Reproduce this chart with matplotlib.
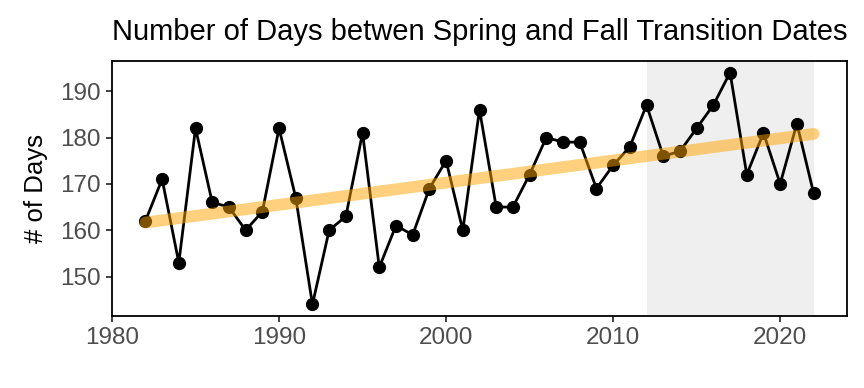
import numpy as np
import matplotlib.pyplot as plt

years = list(range(1982, 2023))
days = [162, 171, 153, 182, 166, 165, 160, 164, 182, 167,
        144, 160, 163, 181, 152, 161, 159, 169, 175, 160,
        186, 165, 165, 172, 180, 179, 179, 169, 174, 178,
        187, 176, 177, 182, 187, 194, 172, 181, 170, 183, 168]
shade_start, shade_end = 2012, 2022

plt.rcParams["font.family"] = ["Liberation Sans", "DejaVu Sans"]

fig = plt.figure(figsize=(8.64, 3.88), dpi=100)
ax = fig.add_axes([112 / 864, 1 - 316 / 388, (847 - 112) / 864, (316 - 61) / 388])

x = np.array(years)
y = np.array(days)

ax.axvspan(shade_start, shade_end, color="#EFEFEF", lw=0, zorder=0)

# linear trend
slope, intercept = np.polyfit(x, y, 1)
xl = np.array([x.min(), x.max()])
ax.plot(xl, slope * xl + intercept, color="#FFA500", alpha=0.5, lw=8.5,
        solid_capstyle="round", zorder=3)

ax.plot(x, y, color="black", lw=2.0, marker="o", markersize=8.5, zorder=2)

ax.set_xlim(1980, 2024)
ax.set_ylim(141.5, 196.5)
ax.set_xticks([1980, 1990, 2000, 2010, 2020])
ax.set_yticks([150, 160, 170, 180, 190])

for s in ax.spines.values():
    s.set_linewidth(1.3)
    s.set_color("black")
ax.tick_params(length=4.5, width=1.3, color="#333333", labelcolor="#4D4D4D",
               labelsize=17.5, pad=3.5)

ax.set_ylabel("# of Days", fontsize=18.5, labelpad=9)
ax.set_title("Number of Days betwen Spring and Fall Transition Dates",
             loc="left", fontsize=21, pad=15)

fig.savefig("out.png", dpi=100)
